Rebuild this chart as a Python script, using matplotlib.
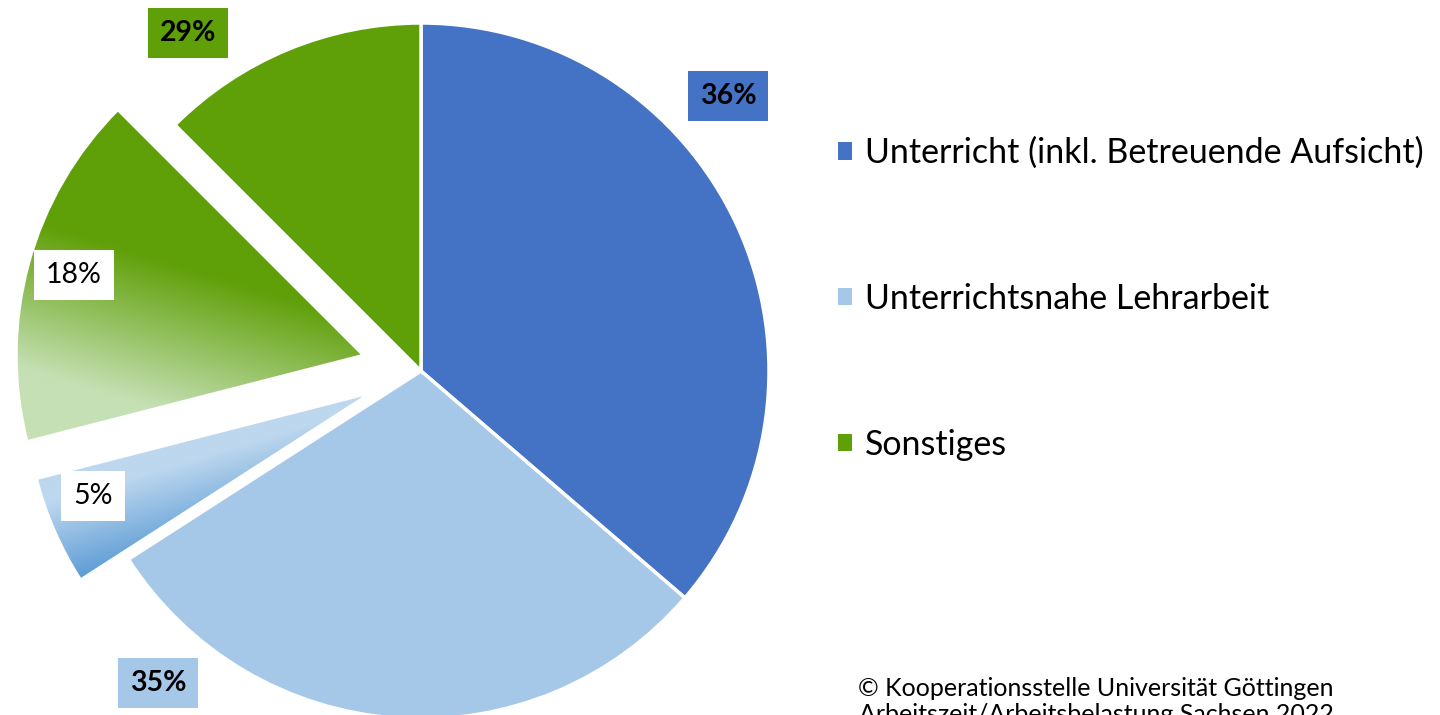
import numpy as np
import matplotlib
matplotlib.use("Agg")
import matplotlib.pyplot as plt
from matplotlib.patches import Patch
from matplotlib.colors import to_rgb

plt.rcParams['font.family'] = ['Lato', 'DejaVu Sans']

# data
categories = ["Unterricht (inkl. Betreuende Aufsicht)", "Unterrichtsnahe Lehrarbeit", "Sonstiges"]
category_colors = ["#4472C4", "#A6C8E8", "#5F9F07"]
# wedge sizes as drawn (clockwise from top): Unterricht, Lehrarbeit, Lehrarbeit-Teil, Sonstiges-Teil, Sonstiges
wedge_sizes = [36.3, 29.6, 5.1, 16.5, 12.5]
wedge_labels = ["36%", "35%", "5%", "18%", "29%"]
copyright_lines = ["© Kooperationsstelle Universität Göttingen", "Arbeitszeit/Arbeitsbelastung Sachsen 2022"]

W, H = 1440, 715
fig = plt.figure(figsize=(W / 100, H / 100), dpi=100)


def px(x, y):
    return x / W, 1 - y / H


# pie axes placed so that centre is at (421, 371) px with radius 348 px
cx, cy = px(421, 371)
rx, ry = 348 / W, 348 / H
L = 1.3
ax = fig.add_axes([cx - L * rx, cy - L * ry, 2 * L * rx, 2 * L * ry])

wedges, _ = ax.pie(
    wedge_sizes,
    colors=[category_colors[0], category_colors[1], "#BDD7EE", "#5F9F07", category_colors[2]],
    explode=[0, 0, 0.15, 0.17, 0],
    startangle=90,
    counterclock=False,
    wedgeprops=dict(edgecolor="white", linewidth=2.5),
)


def fill_gradient(wedge, c_start, c_end, direction, t0, t1):
    verts = wedge.get_path().vertices
    x0, x1 = verts[:, 0].min(), verts[:, 0].max()
    y0, y1 = verts[:, 1].min(), verts[:, 1].max()
    d = np.array(direction, float)
    d /= np.hypot(*d)
    pv = verts @ d
    X, Y = np.meshgrid(np.linspace(x0, x1, 300), np.linspace(y0, y1, 300))
    s = (X * d[0] + Y * d[1] - pv.min()) / (pv.max() - pv.min())
    t = np.clip((s - t0) / (t1 - t0), 0, 1)[..., None]
    rgb = np.array(to_rgb(c_start)) * (1 - t) + np.array(to_rgb(c_end)) * t
    im = ax.imshow(rgb, extent=(x0, x1, y0, y1), origin="lower", interpolation="bilinear", zorder=0.5)
    im.set_clip_path(wedge)
    wedge.set_facecolor("none")


fill_gradient(wedges[2], "#BDD7EE", "#5B9BD5", (0.3, -1), 0.25, 1.0)
fill_gradient(wedges[3], "#5F9F07", "#C5E0B4", (-0.3, -1), 0.38, 0.8)

ax.set_xlim(-L, L)
ax.set_ylim(-L, L)
ax.set_aspect("auto")
ax.axis("off")

# data labels
label_style = [
    ((728, 96), category_colors[0], "bold"),
    ((158, 683), category_colors[1], "bold"),
    ((93, 496), "white", "normal"),
    ((74, 275), "white", "normal"),
    ((188, 33), category_colors[2], "bold"),
]
for text, (pos, fc, fw) in zip(wedge_labels, label_style):
    fig.text(*px(*pos), text, ha="center", va="center", fontsize=20.5, fontweight=fw,
             bbox=dict(boxstyle="square,pad=0.42", fc=fc, ec="none"))

# legend
handles = [Patch(facecolor=c, edgecolor="none") for c in category_colors]
fig.legend(handles, categories, loc="upper left", bbox_to_anchor=px(838, 137), frameon=False,
           fontsize=24.5, handlelength=0.4, handleheight=0.4, handletextpad=0.4,
           labelspacing=3.34, borderpad=0, borderaxespad=0)

# source note (second line is cut by the lower edge, as in the original)
for i, line in enumerate(copyright_lines):
    fig.text(*px(1096, 688 + 26 * i), line, ha="center", va="center", fontsize=18)

fig.savefig("out.png", dpi=100)
